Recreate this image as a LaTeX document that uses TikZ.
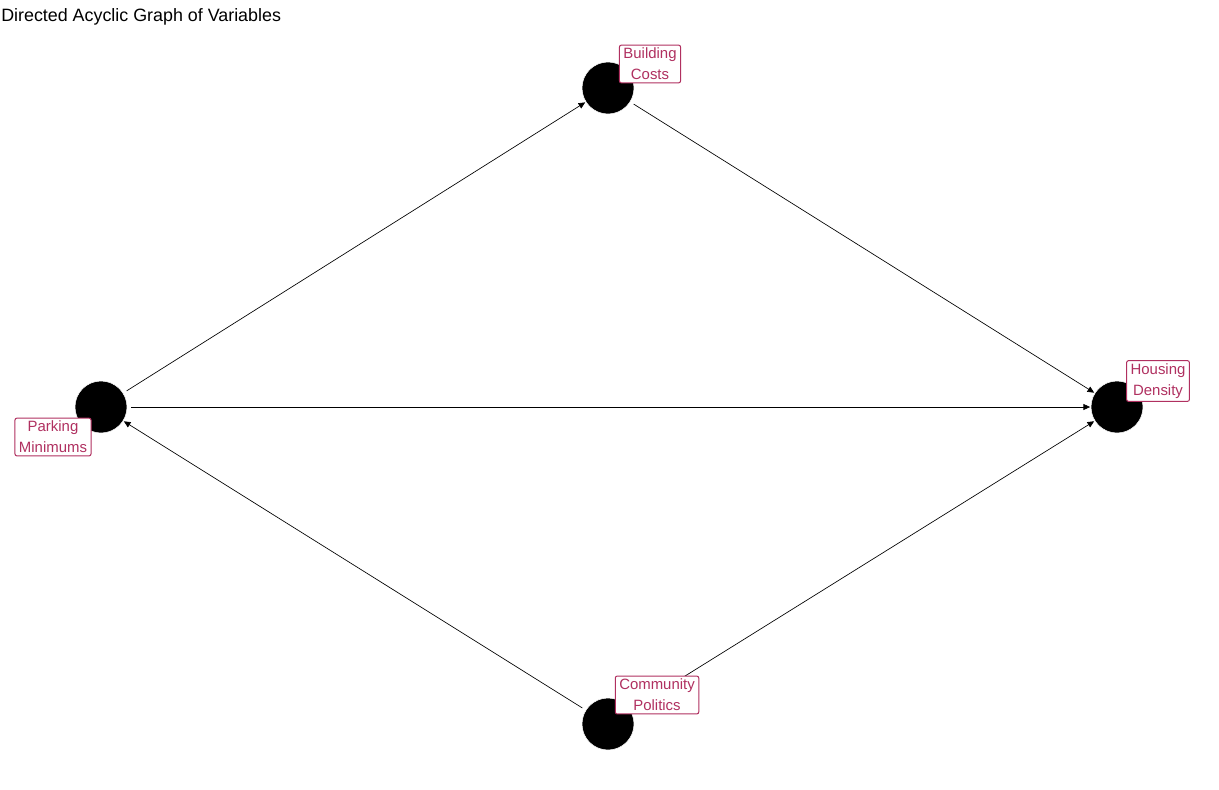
\documentclass[tikz,border=0pt]{standalone}
\usepackage{fontspec}
\setmainfont{Liberation Sans}
\usepackage{tikz}
\usepackage{xcolor}
\usetikzlibrary{arrows.meta}
\definecolor{labred}{RGB}{176,48,96}

\begin{document}
\begin{tikzpicture}[x=0.75pt,y=-0.75pt,
  dot/.style={circle,fill=black,draw=white,line width=0.4pt,minimum size=39pt,inner sep=0pt},
  lab/.style={draw=labred,line width=0.75pt,text=labred,fill=white,rounded corners=1.5pt,align=center,
    inner xsep=3pt,inner ysep=2.2pt,font=\fontsize{11.2}{15.75}\selectfont},
  arr/.style={-{Triangle[length=5pt,width=4.5pt]},line width=0.5pt,shorten <=3pt,shorten >=0.5pt}]
\useasboundingbox (0,0) rectangle (1219,789);
\node[anchor=base west,inner sep=0pt,font=\fontsize{13.4}{16}\selectfont] (title) at (1,21) {Directed Acyclic Graph of Variables};
% variables
\node[dot] (bc) at (608,88) {};
\node[dot] (pm) at (101,407) {};
\node[dot] (hd) at (1117,407) {};
\node[dot] (cp) at (608,724) {};
% edges
\draw[arr] (pm) -- (bc);
\draw[arr] (bc) -- (hd);
\draw[arr] (pm) -- (hd);
\draw[arr] (cp) -- (pm);
\draw[arr] (cp) -- (hd);
% labels
\node[lab] (bcl) at ([shift={(42,-24)}]bc) {Building\\Costs};
\node[lab] (pml) at ([shift={(-48,30)}]pm) {Parking\\Minimums};
\node[lab] (hdl) at ([shift={(41,-26)}]hd) {Housing\\Density};
\node[lab] (cpl) at ([shift={(49,-29)}]cp) {Community\\Politics};
\end{tikzpicture}
\end{document}
